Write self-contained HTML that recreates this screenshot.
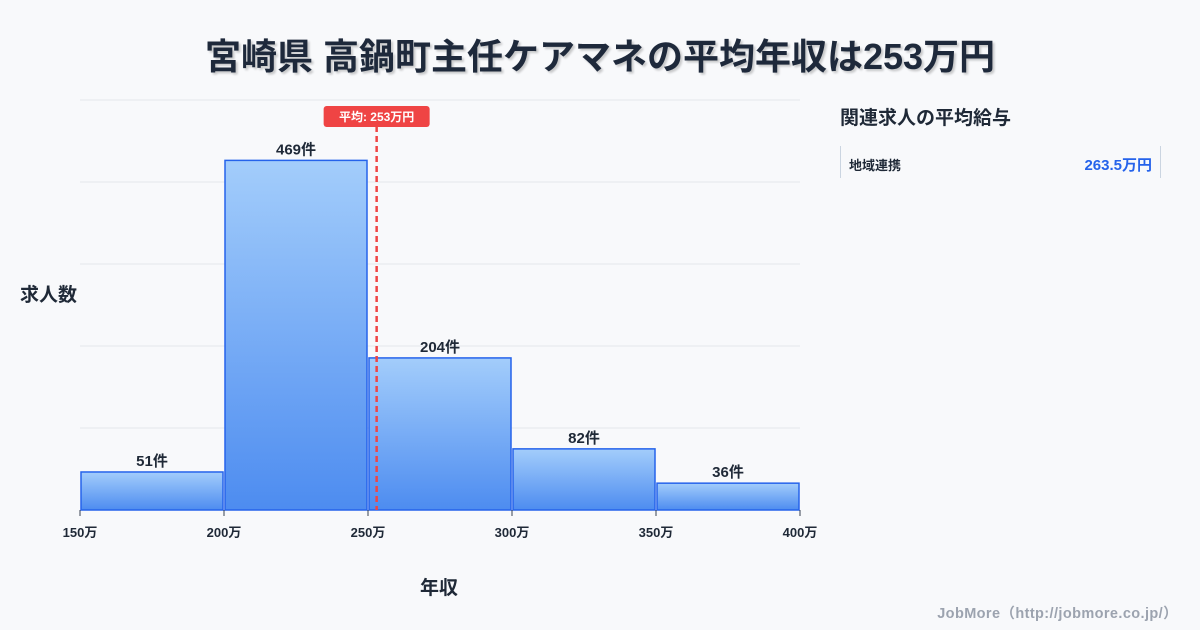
<!DOCTYPE html>
<html><head><meta charset="utf-8"><style>
body{margin:0;width:1200px;height:630px;background:#f8f9fb;font-family:"Liberation Sans","Noto Sans CJK JP",sans-serif;overflow:hidden;position:relative;color:#1f2937}
.t{position:absolute;white-space:nowrap}
</style></head><body>
<div class="t" style="left:0;width:1200px;text-align:center;top:28px;font-size:36px;font-weight:bold;color:#1e293b;text-shadow:2px 2px 2px rgba(0,0,0,0.2)">宮崎県 高鍋町主任ケアマネの平均年収は253万円</div>
<div class="t" style="left:20px;top:280px;font-size:19px;font-weight:bold">求人数</div>
<div class="t" style="left:420px;top:573px;font-size:19px;font-weight:bold">年収</div>
<div class="t" style="left:840px;top:103px;font-size:19px;font-weight:bold">関連求人の平均給与</div>
<div style="position:absolute;left:840px;top:146px;width:319px;height:32px;border-left:1px solid #cbd5e1;border-right:1px solid #cbd5e1">
<span class="t" style="left:8px;top:9px;font-size:13px;font-weight:bold">地域連携</span>
<span class="t" style="right:8px;top:8px;font-size:15px;font-weight:bold;color:#2563eb">263.5万円</span></div>
<div class="t" style="right:22px;top:602px;font-size:14.5px;font-weight:bold;color:#9ca3af;letter-spacing:0.4px">JobMore（http://jobmore.co.jp/）</div>
<svg id="c" width="1200" height="630" style="position:absolute;left:0;top:0">
<defs><linearGradient id="g" x1="0" y1="0" x2="0" y2="1"><stop offset="0" stop-color="#a3cdfb"/><stop offset="1" stop-color="#4d8cf0"/></linearGradient></defs>
</svg>
<script>
const binStarts=[150,200,250,300,350];
const counts=[51,469,204,82,36];
const xTicks=[150,200,250,300,350,400];
const yTicks=[0,110,220,330,440,550];
const avg=253;
const ns="http://www.w3.org/2000/svg",svg=document.getElementById('c');
const X=v=>80+(v-150)*720/250, Y=v=>510-v*410/550;
function mk(t,a,p){const e=document.createElementNS(ns,t);for(const k in a)e.setAttribute(k,a[k]);(p||svg).appendChild(e);return e;}
yTicks.forEach(v=>{const l=mk('line',{x1:80,x2:800,y1:Y(v),y2:Y(v),stroke:'#e5e7eb'});

});
binStarts.forEach((s,i)=>{const r=mk('rect',{x:X(s)+1,y:Y(counts[i]),width:X(s+50)-X(s)-2,height:510-Y(counts[i]),fill:'url(#g)',stroke:'#2563eb','stroke-width':1.5});


const t=mk('text',{x:(X(s)+X(s+50))/2,y:Y(counts[i])-6,'text-anchor':'middle','font-size':15,'font-weight':'bold',fill:'#1f2937'});t.textContent=counts[i]+'件';

});
xTicks.forEach(v=>{mk('line',{x1:X(v),x2:X(v),y1:510,y2:516,stroke:'#374151'});
const t=mk('text',{x:X(v),y:537,'text-anchor':'middle','font-size':13,'font-weight':'bold',fill:'#1f2937'});t.textContent=v+'万';

});
const ax=X(avg);
const al=mk('line',{x1:ax,x2:ax,y1:126,y2:510,stroke:'#ef4444','stroke-width':2.5,'stroke-dasharray':'6,4'});


const ar=mk('rect',{x:ax-53,y:106,width:106,height:21,rx:3,fill:'#ef4444'});


const at=mk('text',{x:ax,y:121,'text-anchor':'middle','font-size':12,'font-weight':'bold',fill:'#fff'});at.textContent='平均: '+avg+'万円';


</script>
</body></html>
